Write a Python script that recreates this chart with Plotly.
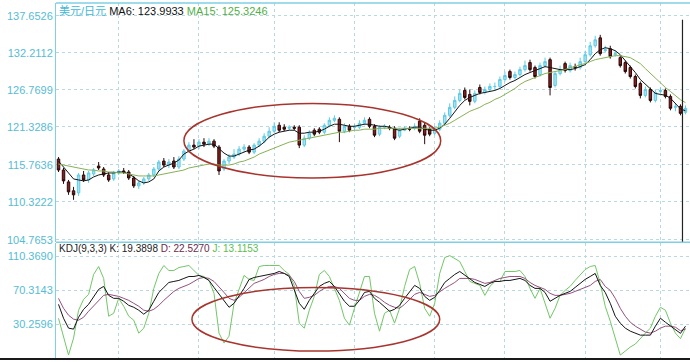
import plotly.graph_objects as go

# ---------------- data ----------------
opens = [116.61,115.00,113.25,111.94,111.64,114.27,113.54,114.42,115.59,115.15,
         114.27,113.69,114.57,114.86,114.71,113.83,112.67,113.10,113.69,114.27,
         115.15,116.32,115.73,116.32,115.44,116.61,117.78,118.66,118.51,119.10,
         118.80,119.24,118.37,115.15,116.32,116.90,117.34,118.07,118.37,117.63,
         118.66,119.24,119.97,120.70,121.58,121.29,121.14,121.29,121.29,118.66,
         119.68,120.85,121.00,120.56,121.58,122.31,122.46,120.70,121.43,121.29,
         121.29,121.87,122.46,121.43,120.27,121.29,121.29,121.14,119.97,120.85,
         121.00,121.14,122.17,121.58,121.00,120.41,121.00,121.87,123.04,124.21,
         125.23,126.70,126.11,125.09,127.13,126.40,126.84,127.28,127.28,128.30,
         129.47,128.60,129.03,129.76,130.79,130.06,129.03,130.35,131.22,127.43,
         129.18,130.64,129.62,130.20,130.06,130.93,131.95,133.27,134.43,132.54,
         132.83,131.95,131.52,130.79,130.06,128.74,127.72,125.97,126.84,125.23,
         126.55,126.70,125.82,124.21,124.36,123.48]
highs = [116.90,115.30,113.54,112.52,114.57,114.86,114.86,115.30,116.17,115.44,
         114.71,114.86,115.15,115.30,115.00,114.13,113.40,113.98,114.57,115.44,
         116.47,116.76,116.61,116.90,117.05,118.07,119.10,119.53,119.53,119.68,
         119.68,119.53,118.66,116.61,117.34,118.07,118.51,118.80,118.66,118.95,
         119.68,120.41,121.29,122.02,122.02,121.73,121.58,121.58,121.58,120.12,
         120.85,121.14,121.29,121.87,122.75,123.04,122.75,121.87,121.73,121.73,
         122.31,122.75,122.75,121.73,121.58,121.73,121.58,121.43,121.14,121.43,
         121.43,121.87,122.60,122.02,121.29,121.43,122.31,123.48,124.80,125.82,
         126.84,127.13,126.84,126.70,127.57,127.28,127.72,127.86,128.74,129.47,
         129.76,129.47,130.20,131.08,131.22,130.35,130.79,131.52,131.52,129.47,
         130.35,130.93,130.79,130.64,131.52,132.54,133.85,134.73,134.87,133.27,
         133.27,132.54,131.81,131.08,130.35,129.03,128.01,127.28,127.13,126.84,
         127.13,126.99,126.11,124.80,124.65,124.50]
lows = [114.71,112.96,111.35,110.62,111.20,113.25,113.10,114.13,115.00,113.98,
        113.25,113.40,114.27,114.42,113.54,112.37,112.23,112.81,113.40,113.98,
        114.86,115.44,115.30,115.15,115.15,116.32,117.49,118.07,118.07,118.37,
        118.51,118.22,114.27,114.86,115.88,116.61,117.05,117.63,117.34,117.34,
        118.37,118.95,119.68,120.41,120.56,120.70,120.85,120.85,118.22,118.37,
        119.39,119.97,120.27,120.27,121.29,122.02,119.10,120.41,120.56,120.85,
        121.00,121.58,121.14,119.83,119.97,121.00,120.85,119.39,119.68,120.70,
        120.70,120.85,120.41,118.80,119.97,120.12,120.70,121.58,122.75,123.92,
        124.94,125.38,124.50,124.80,126.11,126.11,126.55,126.84,126.99,128.01,
        128.30,128.30,128.74,129.47,129.47,128.45,128.74,130.06,125.97,127.13,
        128.89,129.33,129.33,129.62,129.76,130.64,131.66,132.98,131.81,132.25,
        131.37,131.66,130.06,129.18,128.45,126.99,125.53,125.67,124.94,124.94,
        126.26,125.53,123.77,123.63,123.04,123.19]
closes = [115.00,113.40,111.79,111.35,114.27,113.54,114.57,115.00,115.30,114.27,
          113.54,114.57,114.86,114.71,113.83,112.67,113.10,113.69,114.27,115.15,
          116.17,115.73,116.17,115.44,116.61,117.78,118.66,118.37,119.10,118.80,
          119.24,118.51,114.86,116.32,116.90,117.34,118.07,118.37,117.63,118.66,
          119.24,119.97,120.70,121.43,120.85,121.00,121.29,121.14,118.66,119.68,
          120.41,120.27,120.56,121.58,122.31,122.60,120.70,121.43,120.85,121.29,
          121.87,122.31,121.43,120.12,121.29,121.43,121.14,119.68,120.85,121.14,
          121.00,121.43,120.70,120.12,120.27,121.00,121.87,123.04,124.21,125.23,
          126.26,125.67,125.09,126.26,126.40,126.84,127.28,127.28,128.30,128.89,
          128.60,129.03,129.76,130.35,129.76,128.74,130.35,130.93,127.13,129.18,
          129.76,129.62,130.35,130.06,130.93,131.95,133.27,134.14,132.10,132.68,
          131.66,132.10,130.35,129.47,128.74,127.28,125.97,126.84,125.23,126.40,
          126.70,125.82,124.07,124.36,123.33,124.07]
ma6 = [116.32,115.44,114.42,113.69,113.54,113.40,113.54,113.98,114.27,114.42,
       114.57,114.57,114.71,114.71,114.42,113.98,113.40,113.10,113.25,113.69,
       114.86,115.44,115.73,116.03,116.47,117.34,117.78,118.07,118.51,118.66,
       118.80,118.80,118.07,117.49,117.05,117.05,117.34,117.63,117.93,118.07,
       118.51,119.10,119.83,120.27,120.56,120.70,120.85,120.85,120.41,120.41,
       120.56,120.56,120.70,121.00,121.43,121.73,121.73,121.58,121.43,121.43,
       121.58,121.73,121.73,121.58,121.43,121.43,121.29,121.00,120.85,121.00,
       121.14,121.29,121.29,121.00,120.85,120.85,121.14,121.73,122.60,123.63,
       124.50,125.23,125.67,125.97,126.26,126.40,126.55,126.70,126.99,127.43,
       127.86,128.16,128.60,129.03,129.33,129.62,129.91,130.20,130.06,129.91,
       129.76,129.76,129.76,129.91,130.20,130.49,131.22,132.10,132.68,132.98,
       132.83,132.54,131.95,131.08,130.20,129.33,128.30,127.57,126.84,126.26,
       126.11,126.00,125.55,124.75,123.9933,123.70]
ma15 = [115.88,115.73,115.59,115.44,115.30,115.15,115.00,115.00,114.86,114.86,
        114.71,114.71,114.57,114.57,114.42,114.27,114.13,114.13,114.13,114.13,
        114.27,114.42,114.57,114.71,114.86,115.00,115.30,115.44,115.59,115.73,
        115.88,115.88,115.73,115.73,115.73,115.88,116.17,116.32,116.61,116.90,
        117.34,117.63,117.93,118.22,118.51,118.80,119.10,119.24,119.39,119.53,
        119.68,119.83,119.97,120.12,120.27,120.41,120.56,120.56,120.70,120.85,
        120.85,121.00,121.00,121.00,121.14,121.14,121.14,121.14,121.14,121.14,
        121.14,121.14,121.14,121.14,121.14,121.14,121.29,121.58,121.87,122.31,
        122.75,123.19,123.63,123.92,124.21,124.65,124.94,125.38,125.67,126.11,
        126.55,126.99,127.57,128.01,128.30,128.60,128.89,129.18,129.33,129.47,
        129.62,129.76,130.06,130.20,130.49,130.64,130.93,131.22,131.37,131.52,
        131.66,131.81,131.81,131.66,131.52,131.08,130.64,129.91,129.18,128.45,
        127.72,127.13,126.55,125.95,125.3246,124.90]
k_vals = [53.8,37.3,25.6,24.4,38.5,47.9,53.8,63.2,71.5,75.0,
          64.4,60.9,60.9,57.4,52.6,50.3,46.8,42.1,46.8,57.4,
          67.9,73.8,79.7,80.9,82.1,84.5,86.8,86.8,88.0,85.6,
          82.1,73.8,65.6,57.4,50.3,55.0,63.2,72.7,83.3,85.6,
          86.8,88.0,89.2,90.4,92.7,90.4,86.8,71.5,55.0,47.9,
          58.5,66.8,75.0,78.6,80.9,75.0,66.8,57.4,51.5,51.5,
          58.5,67.9,69.1,60.9,56.2,50.3,45.6,47.9,52.6,60.9,
          69.1,76.2,72.7,63.2,58.5,62.1,70.3,79.7,84.5,89.2,
          92.7,88.0,83.3,79.7,77.4,75.0,78.6,80.9,80.9,82.1,
          82.1,83.3,84.5,82.1,76.2,72.7,72.7,67.9,57.4,60.9,
          64.4,66.8,69.1,73.8,78.6,83.3,86.8,90.4,76.2,67.9,
          55.0,39.7,31.5,25.6,22.0,19.7,17.3,17.3,17.3,27.9,
          37.3,32.6,27.9,23.2,19.3898,27.9]
d_vals = [60.9,49.1,40.9,36.2,35.0,38.5,45.6,51.5,58.5,64.4,
          65.6,64.4,63.2,60.9,58.5,55.0,51.5,46.8,45.6,47.9,
          52.6,58.5,64.4,69.1,72.7,75.0,77.4,80.9,84.5,85.6,
          84.5,80.9,75.0,67.9,60.9,58.5,62.1,67.9,72.7,78.6,
          80.9,83.3,86.8,89.2,90.4,90.4,88.0,80.9,69.1,60.9,
          62.1,64.4,69.1,72.7,75.0,75.0,72.7,66.8,60.9,58.5,
          58.5,63.2,65.6,64.4,60.9,56.2,52.6,50.3,49.1,53.8,
          59.7,65.6,67.9,65.6,63.2,64.4,69.1,72.7,76.2,79.7,
          84.5,84.5,84.5,83.3,80.9,78.6,79.7,82.1,84.5,85.6,
          86.8,86.8,86.8,84.5,79.7,76.2,73.8,71.5,66.8,64.4,
          64.4,65.6,66.8,69.1,71.5,73.8,76.2,80.9,83.3,75.0,
          70.3,60.9,49.1,39.7,32.6,27.9,24.4,20.9,19.7,22.0,
          25.6,27.9,27.9,26.7,22.5270,24.4]
j_vals = [37.3,13.8,-6.3,13.8,46.8,59.7,65.6,89.2,98.6,84.5,
          39.7,43.2,60.9,51.5,39.7,35.0,19.7,25.6,43.2,72.7,
          90.4,99.8,93.9,93.9,97.4,98.6,99.8,93.9,88.0,86.8,
          82.1,66.8,19.7,7.9,16.1,55.0,72.7,88.0,83.3,82.1,
          98.6,99.8,99.8,99.8,99.8,93.9,89.2,76.2,31.5,25.6,
          46.8,63.2,89.2,93.9,86.8,72.7,58.5,37.3,29.1,49.1,
          66.8,86.8,86.8,43.2,22.0,43.2,46.8,31.5,49.1,75.0,
          95.0,98.6,78.6,49.1,39.7,55.0,90.4,109.2,111.5,108.0,
          104.5,92.7,80.9,78.6,76.2,64.4,75.0,80.9,80.9,92.7,
          92.7,92.7,93.9,86.8,72.7,60.9,72.7,55.0,37.3,49.1,
          64.4,70.3,75.0,82.1,89.2,95.0,98.6,99.8,78.6,51.5,
          33.8,13.8,-6.3,-1.6,3.2,6.7,13.8,19.7,25.6,39.7,
          50.3,46.8,31.5,19.7,13.1153,25.6]

price_ticks = [137.6526, 132.2112, 126.7699, 121.3286, 115.7636, 110.3222, 104.7653]
kdj_ticks = [110.3690, 70.3143, 30.2596]
period_starts = [12, 28, 43, 59, 75, 89, 105, 120]   # vertical separators
cursor = 124
pair_name = "美元/日元"

idx = list(range(len(closes)))

# ---------------- figure ----------------
W, H = 690, 362
mt, mb, ml, mr = 3, 2, 56, 0
ph = H - mt - mb
def py(pix):  # pixel row -> paper fraction (layout only)
    return (H - mb - pix) / ph

main_dom = [py(243), 1.0]
kdj_dom = [0.0, py(244)]

CYAN = '#56bcd6'
GRID = '#b9d9e2'
FONT = 'Liberation Sans, Arial, Noto Sans CJK SC, sans-serif'

fig = go.Figure()
fig.add_trace(go.Candlestick(
    x=idx, open=opens, high=highs, low=lows, close=closes,
    increasing=dict(line=dict(color='#5ecbe6', width=1), fillcolor='#a4e3f3'),
    decreasing=dict(line=dict(color='#2a0808', width=1), fillcolor='#8a1d1d'),
    whiskerwidth=0, xaxis='x', yaxis='y', hoverinfo='skip'))
fig.add_trace(go.Scatter(x=idx, y=ma6, mode='lines', line=dict(color='#141414', width=1),
                         xaxis='x', yaxis='y', hoverinfo='skip'))
fig.add_trace(go.Scatter(x=idx, y=ma15, mode='lines', line=dict(color='#86b152', width=1),
                         xaxis='x', yaxis='y', hoverinfo='skip'))
fig.add_trace(go.Scatter(x=idx, y=j_vals, mode='lines', line=dict(color='#72c766', width=1),
                         xaxis='x2', yaxis='y2', hoverinfo='skip'))
fig.add_trace(go.Scatter(x=idx, y=d_vals, mode='lines', line=dict(color='#94507f', width=1),
                         xaxis='x2', yaxis='y2', hoverinfo='skip'))
fig.add_trace(go.Scatter(x=idx, y=k_vals, mode='lines', line=dict(color='#141414', width=1),
                         xaxis='x2', yaxis='y2', hoverinfo='skip'))

xr = [-0.5, len(idx) - 0.1]
xcommon = dict(range=xr, showticklabels=False, tickvals=period_starts, ticks='',
               showgrid=True, gridcolor=GRID, griddash='dot', gridwidth=1,
               zeroline=False, showline=False, fixedrange=True)

fig.update_layout(
    width=W, height=H, margin=dict(l=ml, r=mr, t=mt, b=mb),
    paper_bgcolor='white', plot_bgcolor='white', showlegend=False, hovermode=False,
    xaxis=dict(domain=[0, 1], anchor='y', rangeslider=dict(visible=False), **xcommon),
    xaxis2=dict(domain=[0, 1], anchor='y2', matches='x', **xcommon),
    yaxis=dict(domain=main_dom, range=[104.47, 139.55], tickvals=price_ticks,
               ticktext=[f"{v:.4f}" for v in price_ticks],
               tickfont=dict(color=CYAN, size=11, family=FONT),
               showgrid=True, gridcolor=GRID, griddash='dot', zeroline=False,
               showline=True, linecolor='#7fd0e4', linewidth=1, ticks=''),
    yaxis2=dict(domain=kdj_dom, range=[-9.79, 126.86], tickvals=kdj_ticks,
                ticktext=[f"{v:.4f}" for v in kdj_ticks],
                tickfont=dict(color=CYAN, size=11, family=FONT),
                showgrid=True, gridcolor=GRID, griddash='dot', zeroline=False,
                showline=True, linecolor='#7fd0e4', linewidth=1, ticks=''),
)

shapes = [
    # top border
    dict(type='line', xref='paper', yref='paper', x0=0, x1=1, y0=1.0, y1=1.0,
         line=dict(color='#7fd0e4', width=1.5)),
    # panel separator
    dict(type='line', xref='paper', yref='paper', x0=0, x1=1, y0=py(243.5), y1=py(243.5),
         line=dict(color='#7fd0e4', width=1.5)),
    # bottom dark border
    dict(type='line', xref='paper', yref='paper', x0=-ml / (W - ml), x1=1,
         y0=py(361), y1=py(361), line=dict(color='#1a1a1a', width=2)),
    # cursor line
    dict(type='line', xref='x', yref='y domain', x0=cursor + 0.4, x1=cursor + 0.4, y0=0, y1=0.93,
         line=dict(color='#222222', width=1.2)),
    # highlight ellipses
    dict(type='circle', xref='x', yref='y', x0=25.0, x1=76.2, y0=113.83, y1=124.79,
         line=dict(color='#a8352d', width=1.5)),
    dict(type='circle', xref='x2', yref='y2', x0=26.6, x1=76.0, y0=-1.6, y1=73.8,
         line=dict(color='#a8352d', width=1.5)),
]
fig.update_layout(shapes=shapes)

main_header = (f'<span style="color:#3fb7d8">{pair_name}</span> '
               f'<span style="color:#111">MA6: {ma6[cursor]:.4f}</span> '
               f'<span style="color:#52b043">MA15: {ma15[cursor]:.4f}</span>')
kdj_header = (f'<span style="color:#222">KDJ(9,3,3) K: {k_vals[cursor]:.4f}</span> '
              f'<span style="color:#6a2a4a">D: {d_vals[cursor]:.4f}</span> '
              f'<span style="color:#5cbd4e">J: {j_vals[cursor]:.4f}</span>')
fig.add_annotation(text=main_header, xref='paper', yref='paper', x=0, y=1,
                   xanchor='left', yanchor='top', showarrow=False, xshift=1, yshift=0,
                   font=dict(size=11, family=FONT), bgcolor='rgba(255,255,255,0)')
fig.add_annotation(text=kdj_header, xref='paper', yref='paper', x=0, y=kdj_dom[1],
                   xanchor='left', yanchor='top', showarrow=False, xshift=1, yshift=2,
                   font=dict(size=10, family=FONT))

fig.write_html("out.html")
